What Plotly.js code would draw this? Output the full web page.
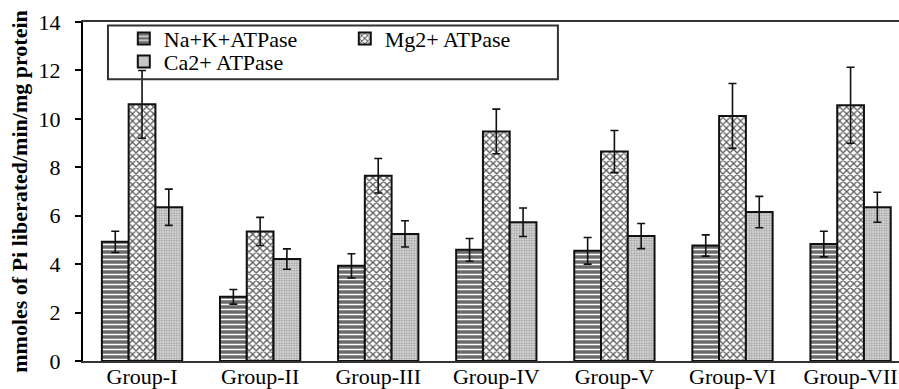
<!DOCTYPE html>
<html>
<head>
<meta charset="utf-8">
<script src="https://cdn.plot.ly/plotly-3.0.1.min.js"></script>
<style>html,body{margin:0;padding:0;background:#fff;}#chart{width:899px;height:389px;}</style>
</head>
<body>
<div id="chart"></div>
<script>
const groups = ["Group-I","Group-II","Group-III","Group-IV","Group-V","Group-VI","Group-VII"];
const naK = [4.92, 2.65, 3.93, 4.59, 4.55, 4.77, 4.83];
const naKErr = [0.44, 0.30, 0.50, 0.47, 0.55, 0.44, 0.53];
const mg = [10.60, 5.35, 7.65, 9.48, 8.65, 10.12, 10.56];
const mgErr = [1.40, 0.58, 0.71, 0.92, 0.87, 1.34, 1.57];
const ca = [6.35, 4.21, 5.25, 5.73, 5.16, 6.15, 6.35];
const caErr = [0.75, 0.42, 0.54, 0.59, 0.52, 0.65, 0.62];
const yTicks = [0, 2, 4, 6, 8, 10, 12, 14];

const font = "Liberation Serif";
const errStyle = v => ({type: "data", array: v, visible: true, color: "#111", thickness: 1.6, width: 4});
const line = {color: "#111", width: 2};

const traces = [
  {type: "bar", name: "Na+K+ATPase", x: groups, y: naK, error_y: errStyle(naKErr), legend: "legend",
   marker: {color: "#6b6b6b", line: line, pattern: {shape: "-", fgcolor: "#ffffff", bgcolor: "#6a6a6a", size: 5, solidity: 0.3}}},
  {type: "bar", name: "Mg2+ ATPase", x: groups, y: mg, error_y: errStyle(mgErr), legend: "legend",
   marker: {color: "#ffffff", line: line, pattern: {shape: "x", fgcolor: "#5a5a5a", bgcolor: "#ffffff", size: 5, solidity: 0.45}}},
  {type: "bar", name: "Ca2+ ATPase", x: groups, y: ca, error_y: errStyle(caErr), legend: "legend2",
   marker: {color: "#dddddd", line: line, pattern: {shape: ".", fgcolor: "#a0a0a0", bgcolor: "#e4e4e4", size: 2.5, solidity: 0.5}}}
];

const layout = {
  width: 899, height: 389,
  margin: {l: 83, r: 0, t: 22, b: 28},
  paper_bgcolor: "#fff", plot_bgcolor: "#fff",
  font: {family: font, color: "#000", size: 20},
  barmode: "group", bargap: 0.32, bargroupgap: 0,
  showlegend: true,
  xaxis: {
    range: [-0.5, 6.41], showgrid: false, zeroline: false,
    showline: true, linecolor: "#333", linewidth: 2, mirror: true,
    ticks: "", ticklabelstandoff: -5, tickfont: {family: font, size: 22, color: "#000"}
  },
  yaxis: {
    range: [0, 14], tickvals: yTicks, showgrid: false, zeroline: false,
    showline: true, linecolor: "#000", linewidth: 2, mirror: false,
    ticks: "outside", ticklen: 6, tickwidth: 2, tickcolor: "#000", ticklabelstandoff: 10,
    tickfont: {family: font, size: 22, color: "#000"},
    title: {text: "<b>mmoles of Pi liberated/min/mg protein</b>", font: {family: font, size: 22, color: "#000"}, standoff: 5}
  },
  legend: {orientation: "h", x: 0.05, xanchor: "left", y: 1.013, yanchor: "top",
    bgcolor: "rgba(0,0,0,0)", borderwidth: 0, entrywidth: 176, font: {family: font, size: 22, color: "#000"}},
  legend2: {orientation: "h", x: 0.05, xanchor: "left", y: 0.945, yanchor: "top",
    bgcolor: "rgba(0,0,0,0)", borderwidth: 0, font: {family: font, size: 22, color: "#000"}},
  shapes: [{type: "rect", xref: "paper", yref: "paper", x0: 0.0306, x1: 0.582, y0: 0.831, y1: 0.99,
    line: {color: "#333", width: 2}, fillcolor: "rgba(0,0,0,0)", layer: "above"}]
};

Plotly.newPlot("chart", traces, layout, {displayModeBar: false, staticPlot: true});
</script>
</body>
</html>
